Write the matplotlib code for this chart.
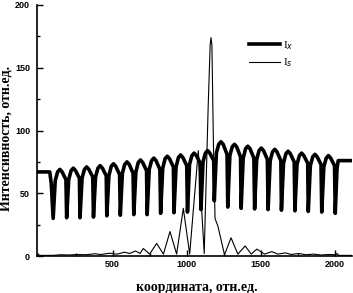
import matplotlib
matplotlib.use("Agg")
import matplotlib.pyplot as plt
from matplotlib.ticker import MultipleLocator

# thick curve (I_x): flat start, then narrow dips between rounded arches, flat end
ix_x = [0, 76, 86,
        99, 113, 129, 144, 159, 185,
        190, 204, 220, 235, 250, 276,
        280, 294, 310, 325, 340, 366,
        371, 385, 401, 416, 431, 457,
        461, 475, 491, 506, 521, 547,
        552, 566, 582, 597, 612, 638,
        643, 657, 673, 688, 703, 729,
        733, 747, 763, 778, 793, 819,
        824, 838, 854, 869, 884, 910,
        914, 928, 944, 959, 974, 1000,
        1005, 1019, 1035, 1050, 1065, 1091,
        1096, 1110, 1126, 1141, 1156, 1182,
        1186, 1200, 1216, 1231, 1246, 1272,
        1277, 1291, 1307, 1322, 1337, 1363,
        1367, 1381, 1397, 1412, 1427, 1453,
        1458, 1472, 1488, 1503, 1518, 1544,
        1549, 1563, 1579, 1594, 1609, 1635,
        1639, 1653, 1669, 1684, 1699, 1725,
        1730, 1744, 1760, 1775, 1790, 1816,
        1820, 1834, 1850, 1865, 1880, 1906,
        1911, 1925, 1941, 1956, 1971, 1997,
        2002, 2014, 2022, 2120]
ix_y = [67, 67, 58,
        30, 60, 67, 69, 67, 61,
        30.5, 61, 68, 70, 68, 62,
        30.5, 62, 69, 71, 69, 63,
        31, 63, 70, 72, 70, 64,
        32, 64, 71.5, 73.5, 71.5, 65,
        32.5, 66, 73, 75, 73, 66,
        33, 67, 74.5, 76.5, 74.5, 68,
        33, 69, 76, 78, 76, 69,
        34, 70, 77.5, 79.5, 77.5, 71,
        34.5, 71, 78.5, 80.5, 78.5, 72,
        35, 73, 80, 82, 80, 74,
        37, 75, 82, 84, 82, 76,
        44, 82, 89, 91, 89, 81,
        39, 80, 87, 89, 87, 79,
        38, 78, 85.5, 87.5, 85.5, 78,
        37.5, 77, 84, 86, 84, 77,
        37, 76, 83, 85, 83, 76,
        36.5, 74, 81.5, 83.5, 81.5, 75,
        36, 73, 80, 82, 80, 74,
        35.5, 72, 79, 81, 79, 73,
        35, 71, 78, 80, 78, 72,
        34, 70, 76, 76]

# thin curve (I_s)
is_x = [0, 100, 150, 200, 260, 320, 380, 420, 480, 530, 580, 615, 655, 685,
        707, 750, 797, 843, 887, 932, 977, 1020, 1078, 1118, 1145, 1158, 1164,
        1170, 1180, 1191, 1200, 1210, 1255, 1299, 1345, 1394, 1435, 1473,
        1525, 1574, 1615, 1665, 1705, 1755, 1805, 1855, 1905, 1955, 2005,
        2015, 2025, 2120]
is_y = [0.5, 0.5, 1, 0.8, 1.2, 1, 1.8, 1.2, 2.2, 1.5, 3, 2, 4, 2,
        6, 1.5, 10, 1.5, 19.5, 1.5, 38, 1.5, 84, 2, 120, 168, 174,
        168, 90, 30, 27, 24, 1, 14.5, 1.5, 8, 1.5, 5.5,
        1.5, 3.5, 1.5, 2.5, 1.2, 2, 1, 1.5, 0.8, 1.2, 1,
        2, 0.5, 0.5]

x_ticks = [500, 1000, 1500, 2000]
y_ticks = [0, 50, 100, 150, 200]

fig = plt.figure(figsize=(3.53, 2.93), dpi=100)
ax = fig.add_axes([37 / 353, 37 / 293, 315 / 353, 251 / 293])

ax.plot(ix_x, ix_y, color="black", lw=2.6, label="I$_x$")
ax.plot(is_x, is_y, color="black", lw=0.8, label="I$_s$")

ax.set_xlim(-10, 2115)
ax.set_ylim(0, 200)
ax.set_xticks(x_ticks)
ax.set_yticks(y_ticks)
ax.xaxis.set_minor_locator(MultipleLocator(250))
ax.yaxis.set_minor_locator(MultipleLocator(25))
ax.tick_params(which="both", direction="in", width=1, top=False, right=False)
ax.tick_params(which="major", length=4)
ax.tick_params(axis="x", which="major", pad=3)
ax.tick_params(axis="y", which="major", pad=5)
ax.tick_params(which="minor", length=2.5)
for lab in ax.get_xticklabels() + ax.get_yticklabels():
    lab.set_fontfamily("Liberation Sans")
    lab.set_fontweight("bold")
    lab.set_fontsize(6.5)

for s in ["top", "right"]:
    ax.spines[s].set_visible(False)
for s in ["left", "bottom"]:
    ax.spines[s].set_linewidth(1.2)

ax.set_xlabel("координата, отн.ед.", family="Liberation Serif", fontweight="bold",
              fontsize=10)
ax.set_ylabel("Интенсивность, отн.ед.", family="Liberation Serif", fontweight="bold",
              fontsize=10)
ax.xaxis.set_label_coords(0.508, -0.098)
ax.yaxis.set_label_coords(-0.078, 0.47)

ax.legend(loc="upper left", bbox_to_anchor=(0.64, 0.905), frameon=False,
          handlelength=2.8, handletextpad=0.3, labelspacing=0.45,
          prop={"family": "Liberation Serif", "size": 8})

fig.savefig("out.png", dpi=100)
